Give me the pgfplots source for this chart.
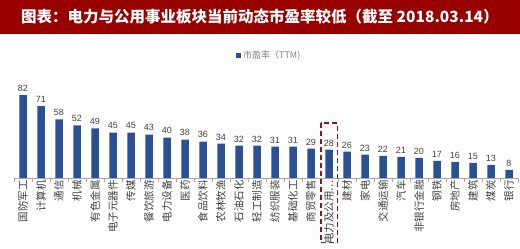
\documentclass[border=0pt]{standalone}
\usepackage{pgfplots}
\pgfplotsset{compat=1.18}
\usepackage{fontspec}
\setmainfont{Liberation Sans}
\newfontfamily\cjk{Noto Sans CJK SC}
\definecolor{titlered}{RGB}{152,0,0}
\definecolor{barblue}{RGB}{44,80,150}
\definecolor{boxred}{RGB}{140,25,25}
\definecolor{txtgray}{RGB}{64,64,64}
\begin{document}
\begin{tikzpicture}
\path[use as bounding box] (0,0) rectangle (520pt,249pt);
\fill[titlered] (0,215pt) rectangle (520pt,249pt);
\node[anchor=west,text=white,font=\cjk\bfseries\fontsize{15.5}{17}\selectfont,inner sep=0pt] at (21pt,232pt) {图表：电力与公用事业板块当前动态市盈率较低（截至 2018.03.14）};
\begin{axis}[
 at={(14pt,71pt)}, anchor=south west,
 scale only axis, width=504pt, height=91pt,
 xmin=-0.5, xmax=27.5, ymin=0, ymax=90,
 axis x line=bottom, axis y line=none,
 axis line style={draw=gray!70, -},
 xtick={0,...,27},
 major tick length=0pt,
 minor xtick={-0.5,0.5,...,27.5},
 minor tick length=4pt,
 minor tick style={draw=gray!70},
 tick align=outside,
 /pgf/number format/assume math mode=true,
 xticklabels={国防军工,计算机,通信,机械,有色金属,电子元器件,传媒,餐饮旅游,电力设备,医药,食品饮料,农林牧渔,石油石化,轻工制造,纺织服装,基础化工,商贸零售,电力及公用…,建材,家电,交通运输,汽车,非银行金融,钢铁,房地产,建筑,煤炭,银行},
 xticklabel style={rotate=90,anchor=east,font=\cjk\fontsize{10.5}{11}\selectfont,text=txtgray,inner sep=2pt},
 ybar, bar width=7.5pt,
 nodes near coords, nodes near coords style={font=\fontsize{9}{10}\selectfont, text=txtgray},
 clip=false,
 legend style={at={(0.4345,1.35)},anchor=west,draw=none,fill=none,font=\cjk\fontsize{9}{10}\selectfont,text=gray},
 legend image code/.code={\fill[barblue] (0pt,-2.5pt) rectangle (5pt,2.5pt);},
]
\addplot[fill=barblue, draw=none] coordinates {
(0,82) (1,71) (2,58) (3,52) (4,49) (5,45) (6,45) (7,43) (8,40) (9,38)
(10,36) (11,34) (12,32) (13,32) (14,31) (15,31) (16,29) (17,28) (18,26) (19,23)
(20,22) (21,21) (22,20) (23,17) (24,16) (25,15) (26,13) (27,8)};
\addlegendentry{市盈率（TTM)}
\draw[boxred, line width=1.5pt, dash pattern=on 5pt off 3pt] (axis cs:16.56,54.5) rectangle (axis cs:17.47,-64);
\end{axis}
\end{tikzpicture}
\end{document}
